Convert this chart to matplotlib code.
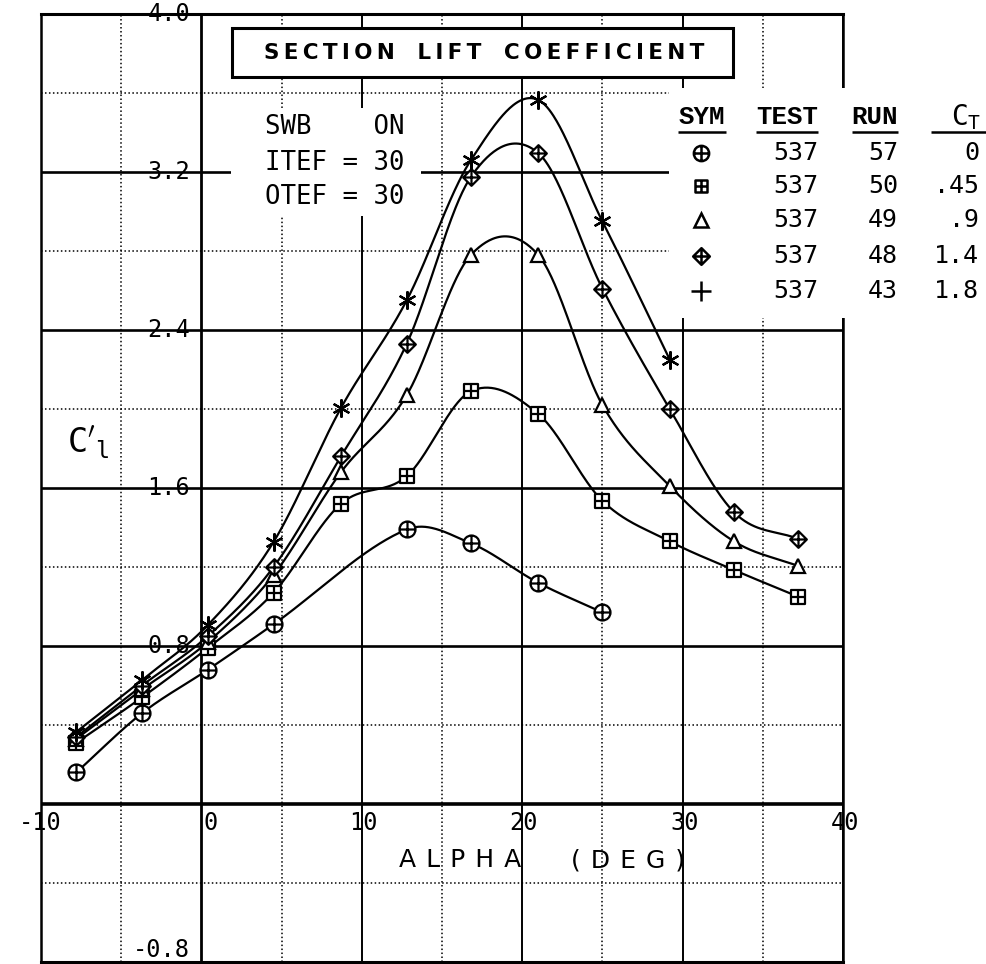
"""Section lift coefficient vs. alpha, runs 43-57 of test 537 (plotter-style chart)."""

import matplotlib
matplotlib.use("Agg")
import matplotlib.pyplot as plt
import numpy as np
from matplotlib.patches import Rectangle
from matplotlib.path import Path

plt.rcParams["mathtext.fontset"] = "dejavusans"

# ---- data ------------------------------------------------------------------
ALPHA = [-7.8, -3.7, 0.4, 4.5, 8.7, 12.8, 16.8, 21.0, 25.0, 29.2, 33.2, 37.2]

# run 57 has no point at 8.7 and stops at 25
alpha_57 = [-7.8, -3.7, 0.4, 4.5, 12.8, 16.8, 21.0, 25.0]
cl_57 = [0.16, 0.46, 0.68, 0.91, 1.39, 1.32, 1.12, 0.97]

alpha_50 = ALPHA
cl_50 = [0.31, 0.54, 0.79, 1.07, 1.52, 1.66, 2.09, 1.975, 1.535, 1.33, 1.185, 1.05]

alpha_49 = ALPHA
cl_49 = [0.33, 0.58, 0.82, 1.16, 1.68, 2.07, 2.78, 2.78, 2.02, 1.61, 1.33, 1.205]

alpha_48 = ALPHA
cl_48 = [0.34, 0.60, 0.85, 1.20, 1.76, 2.33, 3.175, 3.296, 2.61, 2.00, 1.478, 1.342]

# run 43 stops at 29.2
alpha_43 = ALPHA[:10]
cl_43 = [0.365, 0.628, 0.906, 1.327, 2.005, 2.55, 3.26, 3.565, 2.95, 2.25]

TEST = ["537", "537", "537", "537", "537"]
RUN = ["57", "50", "49", "48", "43"]
CT = ["0", ".45", ".9", "1.4", "1.8"]

XTICKS = [-10, 0, 10, 20, 30, 40]
XTICK_LABELS = ["-10", "0", "10", "20", "30", "40"]
YTICKS = [4.0, 3.2, 2.4, 1.6, 0.8, -0.8]
YTICK_LABELS = ["4.0", "3.2", "2.4", "1.6", "0.8", "-0.8"]

# ---- marker shapes ----------------------------------------------------------
CROSS = Path([(-1, 0), (1, 0), (0, -1), (0, 1)],
             [Path.MOVETO, Path.LINETO, Path.MOVETO, Path.LINETO])
SQUARE = Path([(-1, -1), (1, -1), (1, 1), (-1, 1), (-1, -1)],
              [Path.MOVETO, Path.LINETO, Path.LINETO, Path.LINETO, Path.CLOSEPOLY])
DIAMOND = Path([(0, -1), (1, 0), (0, 1), (-1, 0), (0, -1)],
               [Path.MOVETO, Path.LINETO, Path.LINETO, Path.LINETO, Path.CLOSEPOLY])
CIRC_PLUS = Path.make_compound_path(Path.unit_circle(), CROSS)
SQ_PLUS = Path.make_compound_path(SQUARE, CROSS)
DIA_PLUS = Path.make_compound_path(DIAMOND, CROSS)
ASTERISK = (6, 2, 0)

SERIES = [
    (alpha_57, cl_57, CIRC_PLUS, 11.5),
    (alpha_50, cl_50, SQ_PLUS, 10.5),
    (alpha_49, cl_49, "^", 10.5),
    (alpha_48, cl_48, DIA_PLUS, 12),
    (alpha_43, cl_43, ASTERISK, 13),
]
LEGEND_MARKERS = [(CIRC_PLUS, 11), (SQ_PLUS, 9), ("^", 10), (DIA_PLUS, 12), ("+", 14)]


def smooth_curve(x, y, per_seg=60):
    """Cubic Hermite curve through the points (Catmull-Rom style tangents),
    standing in for the plotter's curve fit."""
    x = np.asarray(x, float)
    y = np.asarray(y, float)
    n = len(x)
    m = np.empty(n)
    m[0] = (y[1] - y[0]) / (x[1] - x[0])
    m[-1] = (y[-1] - y[-2]) / (x[-1] - x[-2])
    m[1:-1] = (y[2:] - y[:-2]) / (x[2:] - x[:-2])
    xs_all, ys_all = [], []
    for i in range(n - 1):
        h = x[i + 1] - x[i]
        t = np.linspace(0, 1, per_seg)
        h00 = 2 * t ** 3 - 3 * t ** 2 + 1
        h10 = t ** 3 - 2 * t ** 2 + t
        h01 = -2 * t ** 3 + 3 * t ** 2
        h11 = t ** 3 - t ** 2
        xs_all.append(x[i] + t * h)
        ys_all.append(h00 * y[i] + h10 * h * m[i] + h01 * y[i + 1] + h11 * h * m[i + 1])
    return np.concatenate(xs_all), np.concatenate(ys_all)


def spaced(s, gap="\u2009"):
    return gap.join(s)


fig = plt.figure(figsize=(9.86, 9.64), dpi=100)
ax = fig.add_axes([41 / 986, 2 / 964, 802 / 986, 948 / 964])
ax.set_xlim(-10, 40)
ax.set_ylim(-0.8, 4.0)
ax.set_xticks([])
ax.set_yticks([])
for side, lw in [("left", 1.8), ("right", 1.8), ("top", 2.2), ("bottom", 2.2)]:
    ax.spines[side].set_linewidth(lw)

# grid: solid every 10 deg / 0.8, dotted halfway between
for xv in np.arange(-10, 41, 5):
    if xv % 10 == 0:
        ax.axvline(xv, color="black", lw=2.0 if xv == 0 else 1.4, zorder=1)
    else:
        ax.axvline(xv, color="black", lw=1.1, ls=(0, (1, 1.6)), zorder=1)
for yv in np.arange(-0.8, 4.01, 0.4):
    yv = round(yv, 1)
    if round(yv / 0.8, 3) % 1 == 0:
        ax.axhline(yv, color="black", lw=2.6 if yv == 0 else 1.9, zorder=1)
    else:
        ax.axhline(yv, color="black", lw=1.1, ls=(0, (1, 1.6)), zorder=1)

# white panels that blank the grid behind the text
ax.add_patch(Rectangle((1.86, 2.977), 11.86, 0.547, facecolor="white",
                       edgecolor="none", zorder=3))
ax.add_patch(Rectangle((29.14, 2.46), 19.9, 1.165, facecolor="white",
                       edgecolor="none", zorder=3, clip_on=False))
ax.add_patch(Rectangle((1.92, 3.681), 31.21, 0.248, facecolor="white",
                       edgecolor="black", lw=2.2, zorder=3))

ax.text(17.6, 3.805, spaced("SECTION") + "   " + spaced("LIFT") + "   " + spaced("COEFFICIENT"),
        ha="center", va="center", fontsize=15.5, fontweight="bold",
        family="DejaVu Sans", zorder=4)

# curves and markers
for xs_, ys_, mk, ms in SERIES:
    cx, cy = smooth_curve(xs_, ys_)
    ax.plot(cx, cy, color="black", lw=1.6, zorder=5)
    ax.plot(xs_, ys_, ls="none", marker=mk, ms=ms, mfc="white", mec="black",
            mew=1.6, zorder=6)

# tick labels drawn inside the plot like the plotter did
for xv, lab in zip(XTICKS, XTICK_LABELS):
    off = 1.3 if xv < 0 else 1.0
    ax.text(xv + off, -0.096, lab, ha="right", va="center", fontsize=17,
            family="DejaVu Sans Mono", zorder=4, clip_on=False)
for yv, lab in zip(YTICKS, YTICK_LABELS):
    yy = yv + 0.06 if yv < 0 else yv
    ax.text(-0.7, yy, lab, ha="right", va="center", fontsize=17,
            family="DejaVu Sans Mono", zorder=4, clip_on=False)

ax.text(16.1, -0.284, spaced("ALPHA", "\u2009\u2009"), ha="center", va="center",
        fontsize=18, family="DejaVu Sans", zorder=4)
ax.text(26.6, -0.284, spaced("(DEG)", "\u2009\u2009"), ha="center", va="center",
        fontsize=18, family="DejaVu Sans", zorder=4)
ax.text(-7.1, 1.83, r"$\mathtt{C}'_{\mathtt{l}}$", ha="center", va="center",
        fontsize=24, zorder=4)

# configuration note
for yy, line in zip([3.428, 3.246, 3.073], ["SWB    ON", "ITEF = 30", "OTEF = 30"]):
    ax.text(3.98, yy, line, ha="left", va="center", fontsize=18.5,
            family="DejaVu Sans Mono", zorder=4)

# legend table
head_y = 3.478
line_y = 3.403
rows_y = [3.296, 3.129, 2.957, 2.775, 2.597]
hdr = dict(va="center", fontsize=18.5, family="Liberation Mono", fontweight="bold",
           zorder=4, clip_on=False)
ax.text(31.2, head_y, "SYM", ha="center", **hdr)
ax.text(38.44, head_y, "TEST", ha="right", **hdr)
ax.text(43.43, head_y, "RUN", ha="right", **hdr)
ax.text(48.6, head_y, r"$\mathtt{C_T}$", ha="right", va="center", fontsize=20,
        zorder=4, clip_on=False)
for x0, x1 in [(29.7, 32.7), (34.57, 38.44), (40.56, 43.43), (45.49, 48.93)]:
    ax.plot([x0, x1], [line_y, line_y], color="black", lw=1.8, zorder=4,
            clip_on=False, solid_capstyle="butt")
num = dict(va="center", fontsize=18, family="DejaVu Sans Mono", zorder=4, clip_on=False)
for yy, (mk, ms), t, r, c in zip(rows_y, LEGEND_MARKERS, TEST, RUN, CT):
    ax.plot([31.14], [yy], ls="none", marker=mk, ms=ms, mfc="white", mec="black",
            mew=1.8, zorder=5, clip_on=False)
    ax.text(38.44, yy, t, ha="right", **num)
    ax.text(43.43, yy, r, ha="right", **num)
    ax.text(48.5, yy, c, ha="right", **num)

fig.savefig("out.png", dpi=100)
